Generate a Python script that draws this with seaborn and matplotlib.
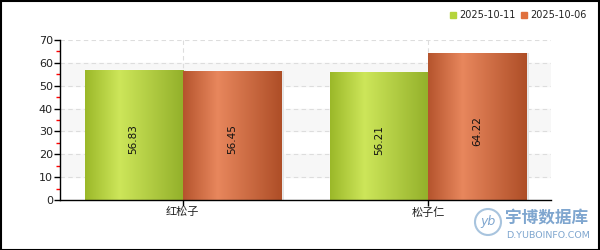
import numpy as np
import pandas as pd
import matplotlib
matplotlib.use("Agg")
import matplotlib.pyplot as plt
import seaborn as sns
from matplotlib.colors import LinearSegmentedColormap
from matplotlib.patches import Rectangle, Ellipse

categories = ["红松子", "松子仁"]
series_names = ["2025-10-11", "2025-10-06"]
values_1011 = [56.83, 56.21]
values_1006 = [56.45, 64.22]
y_ticks = [0, 10, 20, 30, 40, 50, 60, 70]

sns.set_theme(style="white")
plt.rcParams['font.family'] = ['Noto Sans CJK SC', 'DejaVu Sans']

df = pd.DataFrame({
    "category": categories * 2,
    "series": [series_names[0]] * 2 + [series_names[1]] * 2,
    "value": values_1011 + values_1006,
})

fig = plt.figure(figsize=(6, 2.5), dpi=100)
ax = fig.add_axes([60 / 600, 50 / 250, 491 / 600, 160 / 250])

palette = {series_names[0]: "#b5d43c", series_names[1]: "#d26a3e"}
sns.barplot(data=df, x="category", y="value", hue="series", palette=palette,
            width=0.8, gap=0, ax=ax, legend=False, saturation=1)

# background bands
for lo in [10, 30, 50]:
    ax.axhspan(lo, lo + 10, color="#f7f7f7", zorder=0)
for yv in y_ticks[1:]:
    ax.axhline(yv, color="#dddddd", lw=0.8, ls=(0, (4, 3)), zorder=0.5)
for xv in range(len(categories)):
    ax.axvline(xv, color="#dddddd", lw=0.8, ls=(0, (4, 3)), zorder=0.5)

cmaps = {
    series_names[0]: LinearSegmentedColormap.from_list(
        "g", [(0, "#9bb829"), (0.35, "#cde65a"), (1, "#93b02a")]),
    series_names[1]: LinearSegmentedColormap.from_list(
        "o", [(0, "#b5542d"), (0.35, "#e8875d"), (1, "#ae4e27")]),
}

grad = np.linspace(0, 1, 256).reshape(1, -1)
for cont, name in zip(ax.containers, series_names):
    for bar in cont:
        x0, y0 = bar.get_x(), bar.get_y()
        w, h = bar.get_width(), bar.get_height()
        sh = Rectangle((x0 + 0.012, y0), w, h, color="#e4e4e4", zorder=1.5, lw=0)
        ax.add_patch(sh)
        bar.set_zorder(2)
        im = ax.imshow(grad, cmap=cmaps[name], aspect="auto",
                       extent=[x0, x0 + w, y0, y0 + h], zorder=2.5,
                       interpolation="bilinear")
        im.set_clip_path(bar)
        ax.text(x0 + w / 2, y0 + h * 0.47, f"{bar.get_height():.2f}",
                rotation=90, ha="center", va="center", fontsize=7.5,
                color="#111111", zorder=3, family="DejaVu Sans")

ax.set_xlim(-0.5, 1.5)
ax.set_ylim(0, 70)
ax.set_yticks(y_ticks)
ax.set_yticks(np.arange(5, 70, 10), minor=True)
ax.tick_params(axis="y", which="major", length=4, width=1, color="black",
               labelsize=8, pad=1, direction="out", left=True, labelcolor="#222222")
ax.tick_params(axis="y", which="minor", length=3, width=1, color="red",
               direction="out", left=True)
ax.tick_params(axis="x", length=4, width=1, color="black", labelsize=8,
               pad=1, direction="out", bottom=True, labelcolor="#222222")
for lab in ax.get_yticklabels():
    lab.set_family("DejaVu Sans")
ax.set_xlabel("")
ax.set_ylabel("")
for s in ["top", "right"]:
    ax.spines[s].set_visible(False)
for s in ["left", "bottom"]:
    ax.spines[s].set_color("black")
    ax.spines[s].set_linewidth(1)
ax.set_facecolor("white")

# legend
leg_items = [(450, series_names[0], "#b5d43c"), (521, series_names[1], "#e0703e")]
for px, name, col in leg_items:
    fig.patches.append(Rectangle((px / 600, 1 - 18 / 250), 6 / 600, 6 / 250,
                                 transform=fig.transFigure, color=col))
    fig.text((px + 9) / 600, 1 - 14.5 / 250, name, fontsize=7, va="center",
             ha="left", family="DejaVu Sans", color="#222222")

# watermark
fig.patches.append(Ellipse((488 / 600, 1 - 222 / 250), 26 / 600, 26 / 250,
                   transform=fig.transFigure, fill=False, ec="#a8c4de", lw=1.5))
fig.text(488 / 600, 1 - 222 / 250, "yb", fontsize=9, color="#7fa6cf", ha="center",
         va="center", style="italic", family="DejaVu Sans")
fig.text(505 / 600, 1 - 218 / 250, "宇博数据库", fontsize=12, color="#7fa6cf",
         ha="left", va="center", weight="bold")
fig.text(506 / 600, 1 - 236 / 250, "D.YUBOINFO.COM", fontsize=6.8, color="#7fa6cf",
         ha="left", va="center", family="DejaVu Sans")

# border
fig.patches.append(Rectangle((0.001, 0.002), 0.997, 0.995, transform=fig.transFigure,
                             fill=False, ec="black", lw=1.5))

fig.savefig("out.png", dpi=100)
